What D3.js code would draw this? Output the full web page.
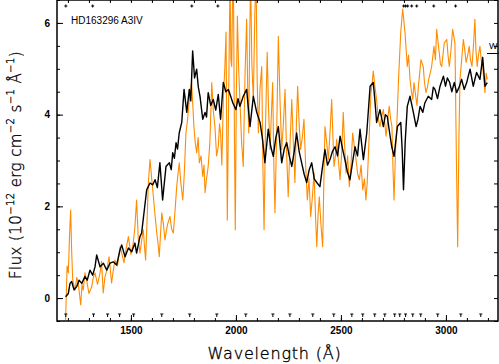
<!DOCTYPE html>
<html>
<head>
<meta charset="utf-8">
<script src="https://cdn.jsdelivr.net/npm/d3@7"></script>
<style>
  body { margin: 0; background: #fff; }
  svg { display: block; }
</style>
</head>
<body>
<div id="chart"></div>
<script>
// wavelength (A) and flux for the smoothed spectrum (black)
var blackWave = [1189,1202,1210,1218,1229,1242,1253,1266,1281,1292,1305,1318,1329,1337,1353,1369,1385,1400,1416,1432,1448,1456,1472,1488,1504,1519,1527,1543,1551,1562,1575,1591,1604,1615,1626,1638,1651,1667,1683,1692,1699,1707,1715,1722,1730,1742,1753,1766,1778,1785,1794,1803,1813,1821,1829,1842,1853,1860,1868,1880,1892,1904,1916,1927,1940,1952,1964,1975,1985,2000,2010,2019,2035,2051,2067,2083,2099,2115,2127,2138,2154,2166,2178,2190,2202,2218,2230,2242,2254,2266,2278,2289,2301,2313,2325,2337,2349,2361,2373,2385,2400,2412,2424,2436,2448,2460,2472,2484,2496,2508,2519,2531,2543,2555,2567,2579,2591,2607,2623,2639,2654,2662,2670,2686,2702,2712,2721,2732,2742,2753,2769,2785,2792,2798,2806,2816,2829,2845,2858,2867,2877,2890,2900,2916,2932,2940,2948,2960,2972,2988,2998,3007,3018,3028,3040,3051,3063,3075,3087,3099,3107,3115,3130,3146,3162,3175,3186,3197];
var blackFlux = [0.03,0.10,0.32,0.36,0.18,0.25,0.39,0.32,0.47,0.39,0.61,0.50,0.68,0.94,0.68,0.76,0.61,0.76,0.79,0.72,1.05,1.16,0.90,1.09,1.01,1.20,0.98,1.34,1.42,1.85,2.36,2.51,2.47,2.58,2.41,2.95,2.14,2.87,2.95,2.80,3.17,3.05,3.39,3.25,3.60,3.83,4.55,4.05,4.55,4.30,5.39,4.80,4.99,4.60,4.40,3.90,4.05,3.95,4.48,4.20,4.33,4.10,4.44,3.90,4.70,4.50,4.55,4.40,4.26,4.11,4.35,4.18,4.40,4.55,3.74,4.40,4.05,3.83,3.45,2.95,3.68,3.30,3.09,3.50,3.74,2.95,3.25,3.39,3.10,2.87,3.20,3.60,3.20,2.95,2.70,2.52,2.80,2.95,2.60,2.52,2.43,2.85,3.24,2.90,3.02,3.20,3.30,3.10,3.53,3.25,3.02,2.75,2.58,2.95,3.30,3.10,3.68,3.02,3.60,4.62,4.70,4.30,3.83,4.11,3.74,4.00,3.96,3.60,3.30,3.09,3.74,3.83,3.20,2.36,3.40,4.18,4.40,4.05,3.74,3.90,4.18,4.05,4.26,4.40,4.33,4.60,4.55,4.35,4.62,4.84,4.62,4.80,4.70,4.50,4.70,4.48,4.60,4.77,4.55,4.70,4.85,4.99,4.62,4.92,4.77,5.25,4.62,4.70];

// wavelength (A) and flux for the raw spectrum (orange)
var orangeWave = [1189,1196,1202,1208,1213,1218,1223,1234,1242,1249,1261,1267,1273,1281,1289,1300,1313,1321,1329,1341,1353,1360,1368,1376,1385,1396,1408,1416,1424,1436,1448,1458,1467,1478,1488,1500,1511,1519,1527,1535,1543,1551,1559,1565,1570,1577,1583,1591,1599,1607,1615,1623,1629,1635,1641,1647,1655,1662,1674,1686,1694,1702,1710,1718,1724,1730,1738,1747,1754,1762,1770,1778,1789,1800,1806,1813,1820,1826,1834,1842,1848,1853,1860,1868,1876,1885,1892,1900,1908,1916,1922,1927,1933,1940,1947,1953,1959,1965,1972,1976,1980,1984,1988,1993,1997,2002,2007,2013,2019,2027,2035,2043,2051,2056,2061,2066,2070,2076,2083,2090,2096,2101,2107,2115,2123,2128,2134,2141,2149,2155,2162,2168,2175,2181,2186,2194,2202,2210,2218,2226,2234,2241,2249,2258,2266,2274,2281,2288,2294,2301,2308,2316,2324,2332,2340,2348,2356,2364,2372,2379,2385,2391,2397,2405,2413,2419,2424,2432,2440,2448,2456,2462,2467,2474,2480,2488,2496,2504,2511,2518,2524,2532,2540,2548,2556,2564,2572,2580,2588,2596,2604,2612,2619,2625,2630,2637,2643,2649,2654,2662,2670,2678,2686,2694,2702,2709,2715,2723,2730,2737,2743,2748,2753,2760,2766,2775,2785,2794,2805,2816,2822,2829,2836,2842,2848,2854,2862,2869,2875,2881,2892,2898,2905,2912,2918,2925,2932,2943,2950,2956,2962,2968,2974,2980,2986,2992,3004,3010,3016,3024,3032,3043,3050,3056,3062,3067,3075,3083,3090,3096,3104,3111,3117,3124,3131,3138,3143,3149,3155,3162,3168,3175,3186,3192,3197];
var orangeFlux = [-0.48,0.70,0.55,1.40,1.92,1.00,0.39,0.17,0.45,0.33,-0.15,0.30,0.17,0.55,0.39,0.10,0.24,0.45,0.55,0.30,0.55,0.80,0.11,0.45,0.61,0.90,0.33,0.60,0.83,0.70,1.12,0.95,0.77,1.10,1.34,0.95,1.20,1.55,2.14,1.30,0.98,1.25,1.49,1.10,0.83,1.70,2.52,3.02,2.60,2.21,1.80,1.42,1.20,0.90,1.40,1.86,1.60,1.27,1.60,1.78,1.50,1.42,1.90,2.43,2.70,2.95,2.50,2.14,2.70,3.60,3.90,4.33,4.70,3.74,3.40,3.17,3.50,2.95,3.10,2.65,2.90,2.30,2.60,2.87,3.40,4.70,4.10,3.74,3.10,3.30,3.80,3.60,2.90,4.33,5.00,5.80,1.70,4.20,7.0,5.20,5.05,6.60,7.0,3.50,1.49,4.40,6.15,5.00,4.33,3.40,2.87,4.80,6.08,4.60,3.60,5.80,7.0,5.10,4.33,6.20,7.0,4.80,3.60,4.60,5.05,3.00,1.49,3.80,5.36,4.20,3.24,3.90,4.70,2.80,1.86,3.60,5.71,4.30,3.24,3.80,4.55,3.20,2.21,3.40,4.33,3.30,2.52,3.80,4.62,3.80,3.24,3.50,3.90,2.90,2.14,2.60,1.78,2.20,2.73,1.80,1.12,1.80,2.21,1.60,1.12,2.60,3.74,3.40,3.02,3.60,4.33,3.50,2.87,3.10,3.46,3.00,2.58,3.20,4.05,3.30,2.73,3.10,2.43,2.90,3.60,3.30,3.02,2.70,2.58,2.90,2.36,2.60,2.14,2.50,3.02,3.80,4.48,4.70,4.95,4.60,4.33,3.90,3.74,3.95,4.11,3.80,3.53,3.90,4.18,3.90,3.74,2.80,2.14,3.20,3.74,4.84,5.80,6.30,5.80,5.05,5.30,4.77,4.50,4.33,4.70,4.48,4.20,4.62,4.90,5.20,5.05,4.70,4.48,4.60,4.77,4.90,5.05,5.49,5.20,5.86,5.60,5.36,5.10,5.05,5.30,5.56,5.64,5.30,5.05,5.40,5.86,5.56,3.00,1.12,3.50,4.77,5.20,5.64,5.40,5.14,5.30,5.49,5.20,5.05,5.50,6.08,5.40,5.05,5.30,5.49,5.20,5.05,4.48,4.90,4.77];

// small flag marks along the bottom and top of the frame
var bottomMarks = [1190,1322,1389,1446,1513,1647,1780,1909,2047,2176,2257,2366,2466,2552,2604,2661,2709,2756,2780,2808,2842,2880,2961,3071,3166];
var topMarks = [1190,1318,1790,1914,2799,2808,2818,2837,2861,2942,3046];

var xTicks = [1500, 2000, 2500, 3000];
var yTicks = [0, 2, 4, 6];

var W = 499, H = 364;
var m = {left: 57, right: 1, top: 0, bottom: 43};
var iw = W - m.left - m.right, ih = H - m.top - m.bottom;

var svg = d3.select("#chart").append("svg")
    .attr("width", W)
    .attr("height", H)
    .style("font-family", "'Liberation Sans', Arial, sans-serif");

var x = d3.scaleLinear().domain([1148, 3248]).range([0, iw]);
var y = d3.scaleLinear().domain([-0.5, 6.5]).range([ih, 0]);

var g = svg.append("g").attr("transform", "translate(" + m.left + "," + m.top + ")");

g.append("clipPath").attr("id", "clip")
  .append("rect").attr("width", iw).attr("height", ih);

var plot = g.append("g").attr("clip-path", "url(#clip)");

var line = d3.line().x(function(d){ return x(d[0]); }).y(function(d){ return y(d[1]); });

var orange = d3.zip(orangeWave, orangeFlux);
var black = d3.zip(blackWave, blackFlux);

plot.append("path").datum(orange)
    .attr("fill", "none")
    .attr("stroke", "#ff8c00")
    .attr("stroke-width", 1.1)
    .attr("stroke-linejoin", "round")
    .attr("d", line);

plot.append("path").datum(black)
    .attr("fill", "none")
    .attr("stroke", "#000")
    .attr("stroke-width", 1.4)
    .attr("stroke-linejoin", "round")
    .attr("d", line);

// flag marks
plot.selectAll(".bm").data(bottomMarks).enter().append("path")
    .attr("class", "bm")
    .attr("d", function(d){ var px = x(d); return "M" + (px-1.5) + "," + (ih-7) + "h3M" + px + "," + (ih-7) + "v3"; })
    .attr("stroke", "#000").attr("stroke-width", 1).attr("fill", "none");

plot.selectAll(".tm").data(topMarks).enter().append("path")
    .attr("class", "tm")
    .attr("d", function(d){ var px = x(d); return "M" + (px-1.5) + "," + 6 + "h3M" + px + "," + 4.5 + "v3"; })
    .attr("stroke", "#000").attr("stroke-width", 1).attr("fill", "none");

// axes, ticks pointing inward
var minorX = d3.range(1200, 3248, 100);
var minorY = d3.range(-0.5, 6.51, 0.5);

function tickText(a) {
  a.select(".domain").remove();
  a.selectAll("text").style("font-size", "10px").style("font-weight", "bold")
    .style("font-family", "'Liberation Sans', Arial, sans-serif");
}

g.append("g").attr("transform", "translate(0," + ih + ")")
    .call(d3.axisBottom(x).tickValues(minorX).tickSize(-3).tickFormat(""))
    .call(function(a){ a.select(".domain").remove(); });
g.append("g").attr("transform", "translate(0," + ih + ")")
    .call(d3.axisBottom(x).tickValues(xTicks).tickSize(-6).tickPadding(6).tickFormat(d3.format("d")))
    .call(tickText);
g.append("g")
    .call(d3.axisTop(x).tickValues(minorX).tickSize(-3).tickFormat(""))
    .call(function(a){ a.select(".domain").remove(); });

g.append("g")
    .call(d3.axisLeft(y).tickValues(minorY).tickSize(-3).tickFormat(""))
    .call(function(a){ a.select(".domain").remove(); });
g.append("g")
    .call(d3.axisLeft(y).tickValues(yTicks).tickSize(-6).tickPadding(7).tickFormat(d3.format("d")))
    .call(tickText);
g.append("g").attr("transform", "translate(" + iw + ",0)")
    .call(d3.axisRight(y).tickValues(minorY).tickSize(-4).tickFormat(""))
    .call(function(a){ a.select(".domain").remove(); });

g.append("rect").attr("width", iw).attr("height", ih)
    .attr("fill", "none").attr("stroke", "#000").attr("stroke-width", 1.5);

// star label
g.append("text").attr("x", 14).attr("y", 24)
    .style("font-size", "10px")
    .text("HD163296 A3IV");

// clipped legend entry at right edge
svg.append("text").attr("x", 489).attr("y", 49)
    .style("font-size", "9px").text("W");
svg.append("line").attr("x1", 487).attr("x2", 499).attr("y1", 53.5).attr("y2", 53.5)
    .attr("stroke", "#000").attr("stroke-width", 1);

// axis titles
svg.append("text")
    .attr("x", m.left + iw / 2 - 3).attr("y", 359)
    .attr("text-anchor", "middle")
    .style("font-family", "'DejaVu Sans', sans-serif")
    .style("font-weight", 200)
    .style("font-size", "16px")
    .style("letter-spacing", "0.8px")
    .attr("stroke", "#000").attr("stroke-width", 0.35)
    .text("Wavelength (Å)");

var yl = svg.append("text")
    .attr("transform", "translate(21,165) rotate(-90)")
    .attr("text-anchor", "middle")
    .style("font-family", "'DejaVu Sans', sans-serif")
    .style("font-weight", 200)
    .style("font-size", "15px")
    .style("letter-spacing", "0.4px")
    .attr("stroke", "#000").attr("stroke-width", 0.35);
yl.append("tspan").text("Flux (10");
yl.append("tspan").attr("dy", -7).style("font-size", "10px").text("−12");
yl.append("tspan").attr("dy", 7).text(" erg cm");
yl.append("tspan").attr("dy", -7).style("font-size", "10px").text("−2");
yl.append("tspan").attr("dy", 7).text(" s");
yl.append("tspan").attr("dy", -7).style("font-size", "10px").text("−1");
yl.append("tspan").attr("dy", 7).text(" Å");
yl.append("tspan").attr("dy", -7).style("font-size", "10px").text("−1");
yl.append("tspan").attr("dy", 7).text(")");
</script>
</body>
</html>
